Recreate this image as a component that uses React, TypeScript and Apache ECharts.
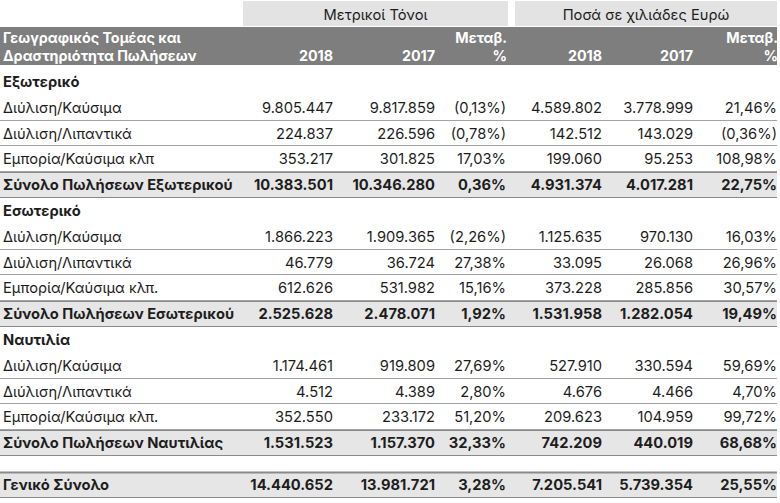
import React, { useEffect, useRef } from "react";
import * as echarts from "echarts";

// ---- data ----
const rowLabels = [
  "Εξωτερικό",
  "Διύλιση/Καύσιμα",
  "Διύλιση/Λιπαντικά",
  "Εμπορία/Καύσιμα κλπ",
  "Σύνολο Πωλήσεων Εξωτερικού",
  "Εσωτερικό",
  "Διύλιση/Καύσιμα",
  "Διύλιση/Λιπαντικά",
  "Εμπορία/Καύσιμα κλπ.",
  "Σύνολο Πωλήσεων Εσωτερικού",
  "Ναυτιλία",
  "Διύλιση/Καύσιμα",
  "Διύλιση/Λιπαντικά",
  "Εμπορία/Καύσιμα κλπ.",
  "Σύνολο Πωλήσεων Ναυτιλίας",
  "Γενικό Σύνολο",
];
const rowKinds = [
  "section", "item", "item", "item", "subtotal",
  "section", "item", "item", "item", "subtotal",
  "section", "item", "item", "item", "subtotal",
  "total",
];
const tonnes2018 = [null, 9805447, 224837, 353217, 10383501, null, 1866223, 46779, 612626, 2525628, null, 1174461, 4512, 352550, 1531523, 14440652];
const tonnes2017 = [null, 9817859, 226596, 301825, 10346280, null, 1909365, 36724, 531982, 2478071, null, 919809, 4389, 233172, 1157370, 13981721];
const tonnesChange = [null, -0.13, -0.78, 17.03, 0.36, null, -2.26, 27.38, 15.16, 1.92, null, 27.69, 2.8, 51.2, 32.33, 3.28];
const euro2018 = [null, 4589802, 142512, 199060, 4931374, null, 1125635, 33095, 373228, 1531958, null, 527910, 4676, 209623, 742209, 7205541];
const euro2017 = [null, 3778999, 143029, 95253, 4017281, null, 970130, 26068, 285856, 1282054, null, 330594, 4466, 104959, 440019, 5739354];
const euroChange = [null, 21.46, -0.36, 108.98, 22.75, null, 16.03, 26.96, 30.57, 19.49, null, 59.69, 4.7, 99.72, 68.68, 25.55];

const groupTitles = ["Μετρικοί Τόνοι", "Ποσά σε χιλιάδες Ευρώ"];
const headerLabelLines = ["Γεωγραφικός Τομέας και", "Δραστηριότητα Πωλήσεων"];
const yearLabels = ["2018", "2017"];
const changeLabelLines = ["Μεταβ.", "%"];

// ---- layout / style ----
const W = 780;
const H = 503;
const FONT = "Inter, 'Noto Sans', sans-serif";
const FS = 14.7;
const HFS = 14.3;
const TEXT = "#1d1d1d";
const HEADER_BG = "#7e7e7e";
const GROUP_BG = "#e3e3e3";
const SUB_BG = "#e6e6e6";
const ITEM_LINE = "#a3a3a3";
const SUB_LINE = "#8a8a8a";
const TABLE_RIGHT = 777;
const LABEL_X = 3;
const colRight = [333, 435, 506, 602, 693, 777];
const HEADER_BOTTOM = 69;
const ROW_H = 25.8;
const TOTAL_GAP = 16;
const HEAD_Y = [37.5, 55.5];

const fmtNum = (v: number) =>
  String(Math.round(v)).replace(/\B(?=(\d{3})+(?!\d))/g, ".");
const fmtPct = (v: number) => {
  const s = Math.abs(v).toFixed(2).replace(".", ",") + "%";
  return v < 0 ? "(" + s + ")" : s;
};

export default function App() {
  const ref = useRef<HTMLDivElement>(null);

  useEffect(() => {
    if (!ref.current) return;
    const chart = echarts.init(ref.current, undefined, { renderer: "svg" });

    const cols = [tonnes2018, tonnes2017, tonnesChange, euro2018, euro2017, euroChange];
    const isPct = [false, false, true, false, false, true];

    const gridBottom = H - (HEADER_BOTTOM + ROW_H * rowLabels.length);

    const headFont = `bold ${HFS}px ${FONT}`;
    const headerGraphics: any[] = [
      { type: "rect", shape: { x: 243, y: 1, width: 265, height: 25 }, style: { fill: GROUP_BG } },
      { type: "rect", shape: { x: 515, y: 1, width: 262, height: 25 }, style: { fill: GROUP_BG } },
      { type: "rect", shape: { x: 0, y: 27, width: TABLE_RIGHT, height: 38 }, style: { fill: HEADER_BG } },
      {
        type: "text",
        style: { x: 375.5, y: 15, text: groupTitles[0], align: "center", verticalAlign: "middle", fill: TEXT, font: `${FS}px ${FONT}` },
      },
      {
        type: "text",
        style: { x: 646, y: 15, text: groupTitles[1], align: "center", verticalAlign: "middle", fill: TEXT, font: `${FS}px ${FONT}` },
      },
    ];
    headerLabelLines.forEach((t, k) => {
      headerGraphics.push({
        type: "text",
        style: { x: LABEL_X, y: HEAD_Y[k], text: t, align: "left", verticalAlign: "middle", fill: "#fff", font: headFont, lineHeight: 16 },
      });
    });
    [0, 1, 3, 4].forEach((c) => {
      const yl = yearLabels[c % 3];
      headerGraphics.push({
        type: "text",
        style: { x: colRight[c], y: HEAD_Y[1], text: yl, align: "right", verticalAlign: "middle", fill: "#fff", font: headFont, lineHeight: 16 },
      });
    });
    [2, 5].forEach((c) => {
      changeLabelLines.forEach((t, k) => {
        headerGraphics.push({
          type: "text",
          style: { x: colRight[c] + 1, y: HEAD_Y[k], text: t, align: "right", verticalAlign: "middle", fill: "#fff", font: headFont, lineHeight: 16 },
        });
      });
    });

    const renderItem = (params: any, api: any) => {
      const i = api.value(1);
      const kind = rowKinds[i];
      const p0 = api.coord([0, i]);
      const band = api.size([0, 1])[1];
      const left = p0[0];
      const right = api.coord([TABLE_RIGHT, i])[0];
      const cy = p0[1] + (kind === "total" ? TOTAL_GAP : 0);
      const top = Math.round(cy - band / 2) + 0.5;
      const bottom = Math.round(cy + band / 2) - 0.5;
      const children: any[] = [];
      const bold = kind !== "item";
      const font = `${bold ? "bold " : ""}${FS}px ${FONT}`;

      if (kind === "subtotal" || kind === "total") {
        children.push({ type: "rect", shape: { x: left, y: top, width: right - left, height: bottom - top }, style: { fill: SUB_BG } });
        children.push({ type: "line", shape: { x1: left, y1: top, x2: right, y2: top }, style: { stroke: SUB_LINE, lineWidth: kind === "total" ? 2 : 1 } });
        children.push({ type: "line", shape: { x1: left, y1: bottom, x2: right, y2: bottom }, style: { stroke: SUB_LINE, lineWidth: 1 } });
      } else if (kind === "item") {
        children.push({ type: "line", shape: { x1: left, y1: bottom, x2: right, y2: bottom }, style: { stroke: ITEM_LINE, lineWidth: 1 } });
      }

      children.push({
        type: "text",
        style: { x: left + LABEL_X, y: cy, text: rowLabels[i], align: "left", verticalAlign: "middle", fill: TEXT, font },
      });

      cols.forEach((arr, c) => {
        const v = arr[i];
        if (v == null) return;
        const x = api.coord([colRight[c], i])[0];
        children.push({
          type: "text",
          style: {
            x,
            y: cy,
            text: isPct[c] ? fmtPct(v as number) : fmtNum(v as number),
            align: "right",
            verticalAlign: "middle",
            fill: TEXT,
            font,
          },
        });
      });

      return { type: "group", children };
    };

    chart.setOption({
      animation: false,
      grid: { left: 0, right: 0, top: HEADER_BOTTOM, bottom: gridBottom, containLabel: false },
      xAxis: { type: "value", min: 0, max: W, show: false },
      yAxis: { type: "category", data: rowLabels.map((_, i) => String(i)), inverse: true, show: false },
      graphic: headerGraphics,
      series: [
        {
          type: "custom",
          silent: true,
          clip: false,
          renderItem,
          encode: { x: 0, y: 1 },
          data: rowLabels.map((_, i) => [0, i]),
        },
      ],
    });

    return () => chart.dispose();
  }, []);

  return (
    <div
      ref={ref}
      style={{ position: "fixed", left: 0, top: 0, width: W, height: H, background: "#fff" }}
    />
  );
}
